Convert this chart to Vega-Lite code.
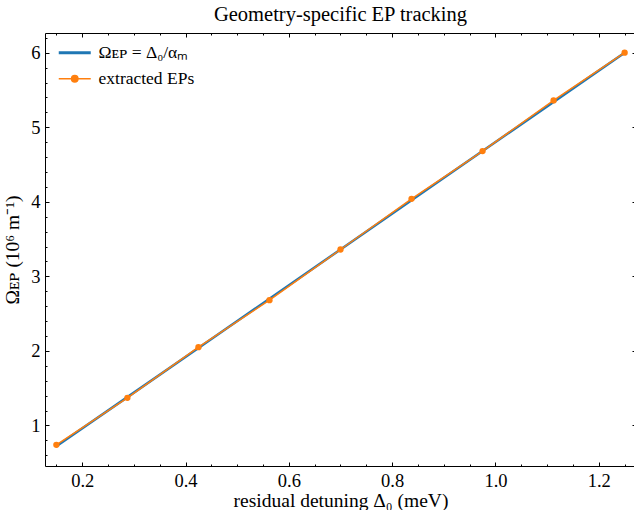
{
  "$schema": "https://vega.github.io/schema/vega-lite/v6.json",
  "width": 591,
  "height": 433,
  "autosize": {"type": "none"},
  "padding": {"left": 45, "top": 33, "right": 0, "bottom": 44},
  "background": "white",
  "title": {"text": "Geometry-specific EP tracking", "font": "Liberation Serif", "fontSize": 20.5, "fontWeight": "normal", "color": "black", "offset": 7},
  "config": {
    "view": {"stroke": null},
    "font": "Liberation Serif",
    "axis": {
      "grid": false,
      "tickColor": "black",
      "tickWidth": 1,
      "domainColor": "black",
      "domainWidth": 1,
      "labelFont": "Liberation Serif",
      "labelFontSize": 18.5,
      "labelColor": "black",
      "labelFlush": false,
      "labelOverlap": false,
      "titleFont": "Liberation Serif",
      "titleFontSize": 19.5,
      "titleFontWeight": "normal",
      "titleColor": "black"
    }
  },
  "data": {
    "values": [
      {"d": 0.15, "model": 0.72, "ep": 0.74},
      {"d": 0.2875, "model": 1.38, "ep": 1.37},
      {"d": 0.425, "model": 2.04, "ep": 2.05},
      {"d": 0.5625, "model": 2.70, "ep": 2.68},
      {"d": 0.7, "model": 3.36, "ep": 3.36},
      {"d": 0.8375, "model": 4.02, "ep": 4.04},
      {"d": 0.975, "model": 4.68, "ep": 4.68},
      {"d": 1.1125, "model": 5.34, "ep": 5.36},
      {"d": 1.25, "model": 6.00, "ep": 6.00}
    ]
  },
  "layer": [
    {
      "mark": {"type": "line", "strokeWidth": 2.5},
      "encoding": {
        "x": {"field": "d", "type": "quantitative",
          "scale": {"domain": [0.128, 1.272], "nice": false, "zero": false},
          "axis": {"orient": "bottom", "values": [0.2, 0.4, 0.6, 0.8, 1.0, 1.2], "format": ".1f", "tickSize": -4, "labelPadding": 9, "labelFont": "Liberation Serif", "title": "residual detuning Δ₀ (meV)", "titlePadding": 2}},
        "y": {"field": "model", "type": "quantitative",
          "scale": {"domain": [0.456, 6.264], "nice": false, "zero": false},
          "axis": {"orient": "left", "values": [1, 2, 3, 4, 5, 6], "format": "d", "tickSize": -4, "labelPadding": 9, "labelFont": "Liberation Serif", "title": "Ωᴇᴘ (10⁶ m⁻¹)", "titlePadding": 8}},
        "color": {"datum": "Ωᴇᴘ = Δ₀/αₘ", "type": "nominal",
          "scale": {"domain": ["Ωᴇᴘ = Δ₀/αₘ", "extracted EPs"], "range": ["#1f77b4", "#ff7f0e"]},
          "legend": {
            "title": null,
            "orient": "none",
            "legendX": 21,
            "legendY": 11,
            "padding": 0,
            "labelFont": "Liberation Serif",
            "labelFontSize": 17.5,
            "labelColor": "black",
            "labelOffset": 15,
            "symbolSize": 256,
            "symbolType": "M-2,0H2",
            "rowPadding": 7,
            "encode": {
              "symbols": {
                "update": {
                  "shape": {"signal": "datum.label === 'extracted EPs' ? 'M-2,0H2M0.4,0A0.4,0.4,0,1,1,-0.4,0A0.4,0.4,0,1,1,0.4,0' : 'M-2,0H2'"},
                  "fill": {"signal": "datum.label === 'extracted EPs' ? '#ff7f0e' : 'transparent'"},
                  "strokeWidth": {"signal": "datum.label === 'extracted EPs' ? 1.5 : 3"}
                }
              }
            }
          }}
      }
    },
    {
      "mark": {"type": "line", "strokeWidth": 1.5, "point": {"filled": true, "size": 40}},
      "encoding": {
        "x": {"field": "d", "type": "quantitative",
          "axis": {"orient": "top", "values": [0.2, 0.4, 0.6, 0.8, 1.0, 1.2], "tickSize": -4, "labels": false, "title": null}},
        "y": {"field": "ep", "type": "quantitative",
          "axis": {"orient": "right", "values": [1, 2, 3, 4, 5, 6], "tickSize": -4, "labels": false, "title": null}},
        "color": {"datum": "extracted EPs", "type": "nominal"}
      }
    },
    {
      "mark": {"type": "point", "opacity": 0},
      "encoding": {
        "x": {"field": "d", "type": "quantitative",
          "axis": {"orient": "bottom", "values": [0.15, 0.25, 0.3, 0.35, 0.45, 0.5, 0.55, 0.65, 0.7, 0.75, 0.85, 0.9, 0.95, 1.05, 1.1, 1.15, 1.25], "tickSize": -2, "labels": false, "domain": false, "title": null}},
        "y": {"field": "ep", "type": "quantitative",
          "axis": {"orient": "left", "values": [0.6, 0.8, 1.2, 1.4, 1.6, 1.8, 2.2, 2.4, 2.6, 2.8, 3.2, 3.4, 3.6, 3.8, 4.2, 4.4, 4.6, 4.8, 5.2, 5.4, 5.6, 5.8, 6.2], "tickSize": -2, "labels": false, "domain": false, "title": null}}
      }
    },
    {
      "mark": {"type": "point", "opacity": 0},
      "encoding": {
        "x": {"field": "d", "type": "quantitative",
          "axis": {"orient": "top", "values": [0.15, 0.25, 0.3, 0.35, 0.45, 0.5, 0.55, 0.65, 0.7, 0.75, 0.85, 0.9, 0.95, 1.05, 1.1, 1.15, 1.25], "tickSize": -2, "labels": false, "domain": false, "title": null}},
        "y": {"field": "ep", "type": "quantitative",
          "axis": {"orient": "right", "values": [0.6, 0.8, 1.2, 1.4, 1.6, 1.8, 2.2, 2.4, 2.6, 2.8, 3.2, 3.4, 3.6, 3.8, 4.2, 4.4, 4.6, 4.8, 5.2, 5.4, 5.6, 5.8, 6.2], "tickSize": -2, "labels": false, "domain": false, "title": null}}
      }
    }
  ],
  "resolve": {"axis": {"x": "independent", "y": "independent"}}
}
